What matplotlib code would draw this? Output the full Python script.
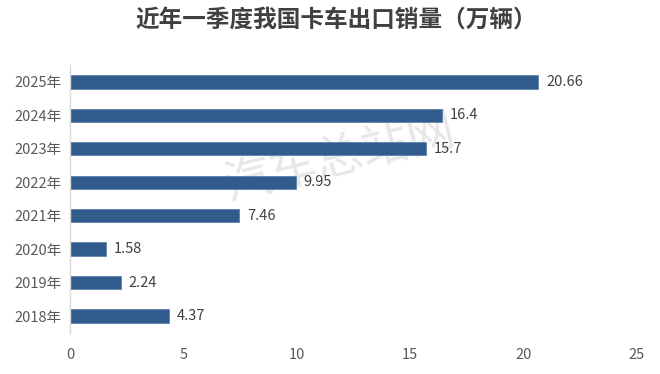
import matplotlib
matplotlib.use("Agg")
import matplotlib.pyplot as plt

plt.rcParams['font.family'] = ['Noto Sans CJK SC', 'DejaVu Sans']

# data (top to bottom in the picture)
years = ['2025年', '2024年', '2023年', '2022年', '2021年', '2020年', '2019年', '2018年']
sales = [20.66, 16.4, 15.7, 9.95, 7.46, 1.58, 2.24, 4.37]
labels = ['20.66', '16.4', '15.7', '9.95', '7.46', '1.58', '2.24', '4.37']
xticks = [0, 5, 10, 15, 20, 25]

fig = plt.figure(figsize=(6.6, 3.74), dpi=100)
ax = fig.add_axes([0.106, 0.110, 0.859, 0.716])

pos = list(range(len(years)))[::-1]
ax.barh(pos, sales, height=0.4, color='#335C8E', edgecolor='#5F82AD', linewidth=0.6, zorder=2)

for p, v, t in zip(pos, sales, labels):
    ax.text(v + 0.35, p, t, va='center', ha='left', fontsize=10.5, color='#404040', zorder=3)

ax.set_xlim(0, 25)
ax.set_ylim(-0.5, len(years) - 0.5)
ax.set_xticks(xticks)
ax.set_xticklabels([str(x) for x in xticks])
ax.set_yticks(pos)
ax.set_yticklabels(years)
ax.tick_params(axis='both', length=0, labelsize=10.5, colors='#595959')
ax.tick_params(axis='x', pad=11)
ax.tick_params(axis='y', pad=6)

for s in ['top', 'right', 'bottom']:
    ax.spines[s].set_visible(False)
ax.spines['left'].set_color('#D9D9D9')
ax.spines['left'].set_linewidth(1.0)

# watermark, behind the bars
ax.text(0.515, 0.575, '汽车总站网', transform=fig.transFigure, fontsize=34,
        color='#D0D0D0', alpha=0.5, rotation=14, ha='center', va='center', zorder=1)

fig.text(0.51, 0.948, '近年一季度我国卡车出口销量（万辆）', ha='center', va='center',
         fontsize=17, fontweight='bold', color='#404040')

fig.savefig('out.png', dpi=100)
